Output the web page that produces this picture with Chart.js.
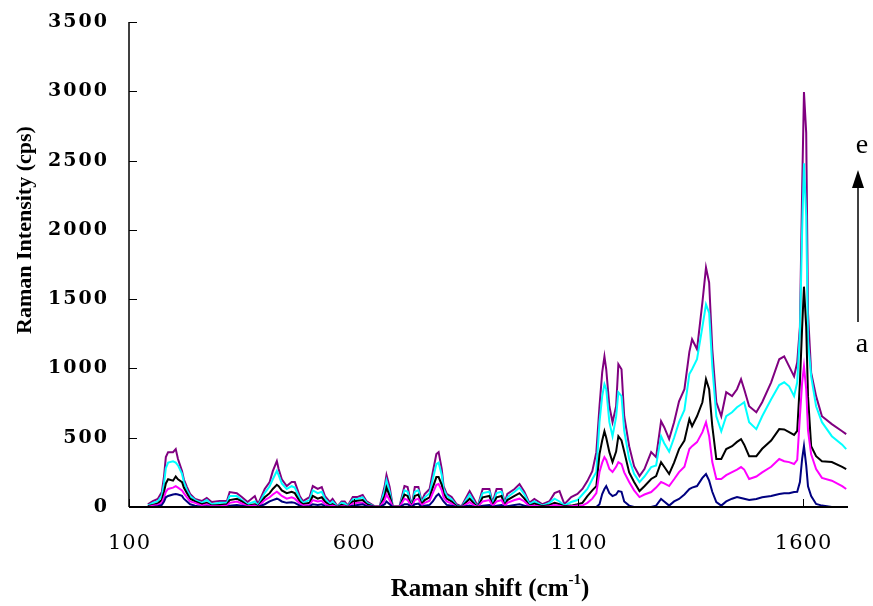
<!DOCTYPE html>
<html>
<head>
<meta charset="utf-8">
<title>Raman spectra</title>
<script src="https://cdn.jsdelivr.net/npm/chart.js@4.4.0/dist/chart.umd.min.js"></script>
<style>
html, body { margin: 0; padding: 0; background: #fff; }
canvas { display: block; }
</style>
</head>
<body>
<canvas id="raman-chart" width="873" height="606"></canvas>
<script>
// Raman shift (cm-1), shared by all five spectra
var shift = [142, 153, 164, 173, 178, 182, 187, 198, 204, 209, 218, 222, 229, 236, 247, 262, 273, 284, 302, 318,
    324, 340, 351, 364, 380, 387, 402, 413, 420, 429, 433, 440, 451, 462, 469, 480, 487, 502, 509, 520,
    529, 536, 547, 553, 564, 573, 580, 587, 598, 609, 620, 629, 647, 658, 669, 673, 680, 687, 702, 713,
    720, 729, 736, 744, 751, 758, 769, 776, 784, 789, 796, 800, 807, 818, 829, 840, 858, 869, 876, 887,
    902, 909, 918, 929, 936, 942, 958, 969, 980, 991, 1002, 1020, 1036, 1047, 1058, 1069, 1084, 1098, 1109, 1120,
    1131, 1140, 1147, 1153, 1158, 1162, 1169, 1176, 1184, 1189, 1196, 1202, 1213, 1224, 1236, 1247, 1262, 1273, 1284, 1291,
    1302, 1313, 1324, 1336, 1347, 1353, 1364, 1376, 1384, 1391, 1398, 1407, 1418, 1429, 1442, 1453, 1462, 1469, 1480, 1496,
    1509, 1529, 1547, 1558, 1569, 1580, 1587, 1593, 1598, 1602, 1607, 1611, 1618, 1629, 1642, 1664, 1687, 1696];

// spectrum a (lowest)
var spec_a = [0, 0, 5, 15, 40, 70, 80, 90, 94, 90, 80, 60, 40, 20, 10, 0, 5, 0, 0, 0,
    10, 15, 10, 0, 0, 0, 20, 40, 50, 60, 55, 40, 30, 35, 30, 10, 0, 5, 20, 15,
    20, 5, 0, 0, 0, 0, 0, 0, 10, 15, 20, 5, 0, 0, 20, 40, 20, 0, 0, 20,
    20, 0, 20, 25, 0, 10, 15, 40, 80, 94, 60, 40, 15, 10, 0, 0, 10, 0, 0, 10,
    15, 0, 10, 15, 0, 5, 15, 20, 10, 0, 0, 0, 0, 0, 0, 0, 0, 0, 0, 0,
    0, 0, 20, 94, 130, 151, 100, 79, 90, 115, 110, 40, 10, 0, 0, 0, 0, 10, 58, 40,
    10, 40, 58, 90, 130, 140, 151, 210, 238, 190, 110, 36, 10, 40, 60, 72, 65, 60, 50, 58,
    70, 80, 94, 100, 100, 108, 110, 180, 350, 440, 300, 150, 79, 22, 10, 0, 0, 0];

// spectrum b
var spec_b = [0, 10, 15, 30, 70, 110, 130, 140, 150, 140, 120, 100, 70, 40, 30, 10, 20, 5, 5, 10,
    30, 40, 25, 5, 10, 0, 50, 70, 90, 110, 100, 80, 60, 70, 60, 25, 10, 15, 50, 40,
    45, 20, 5, 10, 0, 5, 5, 0, 25, 30, 30, 10, 0, 0, 50, 90, 50, 0, 0, 60,
    50, 0, 50, 60, 10, 30, 45, 100, 160, 166, 120, 70, 40, 25, 0, 0, 35, 10, 0, 40,
    50, 5, 40, 50, 5, 30, 50, 60, 40, 5, 10, 0, 5, 15, 10, 0, 5, 10, 10, 30,
    60, 100, 252, 320, 360, 340, 274, 252, 290, 324, 310, 250, 180, 120, 72, 90, 108, 140, 180, 170,
    151, 200, 252, 290, 418, 439, 468, 540, 612, 511, 324, 202, 202, 230, 252, 270, 288, 270, 202, 220,
    250, 290, 346, 330, 324, 310, 340, 655, 900, 1015, 850, 550, 380, 274, 210, 190, 150, 130];

// spectrum c
var spec_c = [5, 15, 25, 50, 110, 170, 200, 190, 220, 200, 180, 140, 100, 60, 40, 20, 30, 10, 15, 20,
    50, 60, 40, 10, 20, 5, 70, 100, 130, 160, 150, 120, 100, 110, 100, 40, 20, 30, 80, 60,
    70, 40, 10, 20, 0, 15, 10, 0, 40, 45, 50, 20, 0, 0, 80, 140, 80, 0, 0, 90,
    80, 0, 80, 90, 20, 50, 70, 140, 216, 216, 160, 100, 60, 40, 5, 0, 60, 20, 0, 70,
    80, 10, 70, 80, 10, 50, 80, 100, 60, 10, 25, 5, 15, 30, 20, 5, 10, 20, 30, 79,
    120, 151, 382, 480, 547, 500, 396, 324, 400, 511, 480, 400, 250, 180, 115, 150, 202, 223, 324, 290,
    238, 320, 418, 480, 634, 583, 655, 756, 922, 850, 583, 346, 346, 418, 439, 470, 490, 450, 367, 367,
    420, 480, 562, 560, 540, 520, 550, 900, 1300, 1590, 1300, 800, 439, 367, 330, 324, 290, 274];

// spectrum d
var spec_d = [10, 30, 40, 80, 170, 280, 320, 330, 320, 300, 240, 180, 120, 80, 50, 30, 50, 20, 30, 30,
    80, 80, 50, 20, 40, 10, 100, 150, 200, 260, 230, 170, 130, 150, 140, 60, 30, 50, 120, 100,
    110, 60, 20, 40, 0, 30, 25, 5, 55, 60, 70, 30, 0, 0, 120, 190, 110, 0, 0, 120,
    110, 0, 110, 120, 30, 70, 100, 200, 310, 320, 230, 130, 80, 55, 10, 0, 90, 30, 0, 100,
    110, 20, 100, 110, 20, 70, 110, 140, 90, 20, 40, 10, 30, 60, 40, 10, 36, 50, 90, 130,
    200, 252, 612, 800, 886, 850, 612, 511, 650, 828, 800, 550, 346, 240, 180, 220, 288, 300, 511, 460,
    400, 500, 612, 700, 960, 994, 1066, 1300, 1462, 1400, 1015, 655, 547, 655, 684, 720, 740, 756, 612, 562,
    655, 778, 880, 900, 871, 800, 900, 1260, 2000, 2480, 2100, 1200, 943, 727, 612, 511, 450, 418];

// spectrum e (highest)
var spec_e = [20, 43, 58, 108, 223, 360, 396, 396, 418, 346, 259, 200, 144, 94, 58, 43, 65, 36, 43, 43,
    108, 100, 72, 36, 79, 20, 130, 180, 259, 331, 274, 200, 151, 180, 180, 79, 43, 72, 151, 130,
    144, 79, 36, 58, 5, 40, 40, 10, 72, 72, 86, 40, 5, 5, 151, 230, 144, 5, 5, 151,
    144, 5, 144, 144, 40, 94, 130, 252, 382, 396, 274, 151, 94, 72, 20, 5, 115, 50, 5, 130,
    130, 30, 130, 130, 30, 94, 130, 166, 108, 30, 58, 20, 43, 100, 115, 20, 72, 94, 130, 187,
    259, 396, 727, 972, 1087, 994, 727, 612, 727, 1030, 994, 655, 439, 295, 223, 274, 396, 360, 619, 576,
    490, 612, 763, 850, 1120, 1210, 1138, 1476, 1728, 1620, 1138, 756, 655, 828, 800, 850, 922, 850, 727, 684,
    756, 900, 1066, 1087, 1015, 943, 1044, 1300, 2300, 2995, 2700, 1400, 970, 800, 655, 598, 547, 526];

var series_names = ['a', 'b', 'c', 'd', 'e'];
var series_values = [spec_a, spec_b, spec_c, spec_d, spec_e];
var series_colors = ['#000080', '#ff00ff', '#000000', '#00ffff', '#800080'];

var x_ticks = [100, 600, 1100, 1600];
var y_ticks = [0, 500, 1000, 1500, 2000, 2500, 3000, 3500];

function to_points(values) {
    return shift.map(function (s, i) { return { x: s, y: values[i] }; });
}

// axes, inward ticks, labels and the a -> e arrow are drawn by hand
var frame_plugin = {
    id: 'frame',
    afterDraw: function (chart) {
        var ctx = chart.ctx;
        var xs = chart.scales.x;
        var ys = chart.scales.y;
        var area = chart.chartArea;

        ctx.save();
        ctx.strokeStyle = '#000';
        ctx.fillStyle = '#000';

        // axis lines
        ctx.lineWidth = 1.5;
        ctx.beginPath();
        ctx.moveTo(area.left, area.top);
        ctx.lineTo(area.left, area.bottom);
        ctx.stroke();
        ctx.lineWidth = 2;
        ctx.beginPath();
        ctx.moveTo(area.left, area.bottom);
        ctx.lineTo(area.right, area.bottom);
        ctx.stroke();

        // tick marks pointing into the plot
        ctx.lineWidth = 1;
        y_ticks.forEach(function (v) {
            var py = Math.round(ys.getPixelForValue(v)) + 0.5;
            ctx.beginPath();
            ctx.moveTo(area.left, py);
            ctx.lineTo(area.left + 8, py);
            ctx.stroke();
        });
        x_ticks.forEach(function (v) {
            var px = Math.round(xs.getPixelForValue(v)) + 0.5;
            ctx.beginPath();
            ctx.moveTo(px, area.bottom);
            ctx.lineTo(px, area.bottom - 8);
            ctx.stroke();
        });

        // y tick labels
        ctx.font = 'bold 19px "DejaVu Serif"';
        ctx.letterSpacing = '2px';
        ctx.textAlign = 'right';
        ctx.textBaseline = 'middle';
        y_ticks.forEach(function (v) {
            ctx.fillText(String(v), area.left - 20, ys.getPixelForValue(v));
        });

        // x tick labels
        ctx.font = '21px "DejaVu Serif"';
        ctx.letterSpacing = '1px';
        ctx.textAlign = 'center';
        x_ticks.forEach(function (v) {
            ctx.fillText(String(v), xs.getPixelForValue(v) + 0.5, area.bottom + 37);
        });
        ctx.letterSpacing = '0px';

        // y title
        ctx.save();
        ctx.translate(25, 230);
        ctx.rotate(-Math.PI / 2);
        ctx.font = 'bold 22px "Liberation Serif"';
        ctx.textAlign = 'center';
        ctx.fillText('Raman Intensity (cps)', 0, 0);
        ctx.restore();

        // x title with superscript
        var main_font = 'bold 25px "Liberation Serif"';
        var sup_font = 'bold 15px "Liberation Serif"';
        ctx.textAlign = 'left';
        ctx.textBaseline = 'alphabetic';
        ctx.font = main_font;
        var w1 = ctx.measureText('Raman shift (cm').width;
        var w3 = ctx.measureText(')').width;
        ctx.font = sup_font;
        var w2 = ctx.measureText('-1').width;
        var tx = 490 - (w1 + w2 + w3) / 2;
        var base = 596;
        ctx.font = main_font;
        ctx.fillText('Raman shift (cm', tx, base);
        ctx.font = sup_font;
        ctx.fillText('-1', tx + w1, base - 12);
        ctx.font = main_font;
        ctx.fillText(')', tx + w1 + w2, base);

        // series order arrow
        ctx.font = '28px "Liberation Serif"';
        ctx.textAlign = 'center';
        ctx.textBaseline = 'middle';
        ctx.fillText('e', 862, 146);
        ctx.fillText('a', 862, 345);
        ctx.lineWidth = 1.5;
        ctx.beginPath();
        ctx.moveTo(858, 322);
        ctx.lineTo(858, 186);
        ctx.stroke();
        ctx.beginPath();
        ctx.moveTo(858, 170);
        ctx.lineTo(852, 188);
        ctx.lineTo(864, 188);
        ctx.closePath();
        ctx.fill();

        ctx.restore();
    }
};

var ctx = document.getElementById('raman-chart').getContext('2d');
var raman_chart = new Chart(ctx, {
    type: 'line',
    data: {
        datasets: series_names.map(function (name, i) {
            return {
                label: name,
                data: to_points(series_values[i]),
                borderColor: series_colors[i],
                borderWidth: 2,
                pointRadius: 0,
                tension: 0,
                fill: false
            };
        })
    },
    options: {
        responsive: false,
        animation: false,
        layout: { padding: { left: 129, top: 22, right: 25, bottom: 99 } },
        plugins: {
            legend: { display: false },
            tooltip: { enabled: false }
        },
        scales: {
            x: {
                type: 'linear',
                min: 100,
                max: 1700,
                grid: { display: false, drawTicks: false },
                border: { display: false },
                ticks: { display: false }
            },
            y: {
                min: 0,
                max: 3500,
                grid: { display: false, drawTicks: false },
                border: { display: false },
                ticks: { display: false }
            }
        }
    },
    plugins: [frame_plugin]
});
</script>
</body>
</html>
